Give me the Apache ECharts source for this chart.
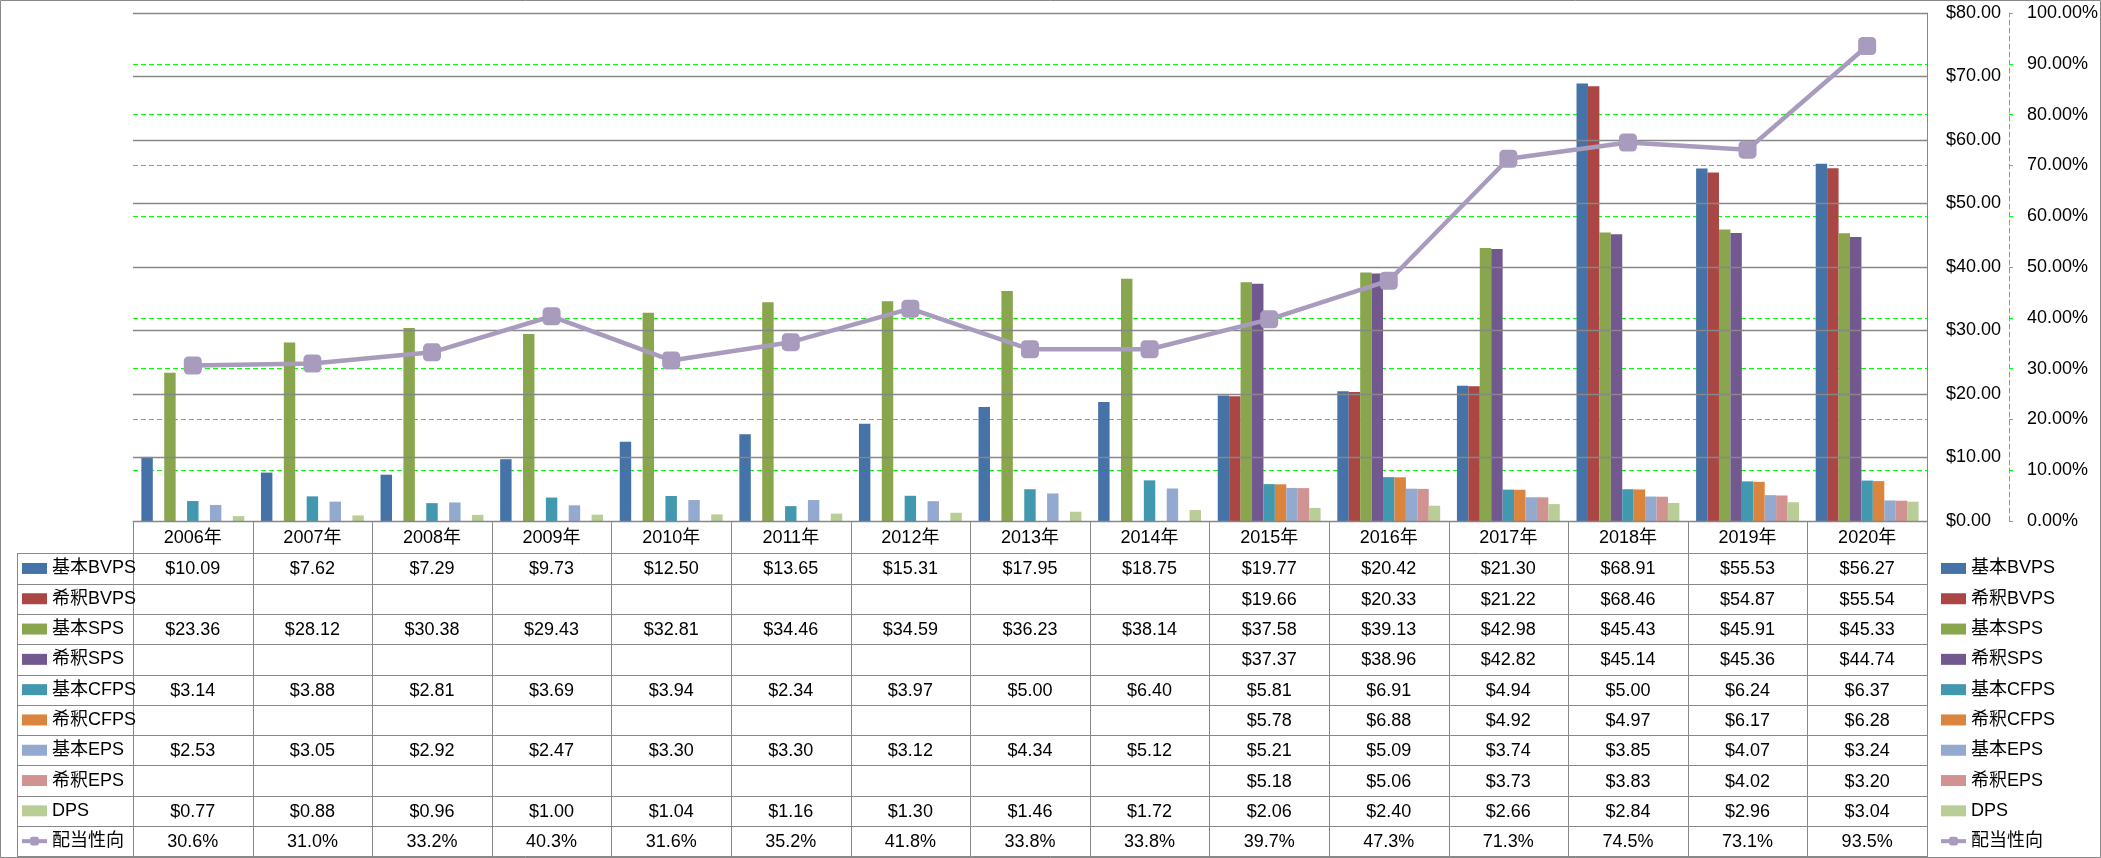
<!DOCTYPE html>
<html>
<head>
<meta charset="utf-8">
<script src="https://cdn.jsdelivr.net/npm/echarts@6/dist/echarts.min.js"></script>
<style>
  html, body { margin: 0; padding: 0; background: #fff; }
  #chart { width: 2101px; height: 858px; }
</style>
</head>
<body>
<div id="chart"></div>
<script>
const years = ['2006年', '2007年', '2008年', '2009年', '2010年', '2011年', '2012年', '2013年',
  '2014年', '2015年', '2016年', '2017年', '2018年', '2019年', '2020年'];

const basicBvps = [10.09, 7.62, 7.29, 9.73, 12.50, 13.65, 15.31, 17.95, 18.75, 19.77, 20.42, 21.30, 68.91, 55.53, 56.27];
const dilutedBvps = [null, null, null, null, null, null, null, null, null, 19.66, 20.33, 21.22, 68.46, 54.87, 55.54];
const basicSps = [23.36, 28.12, 30.38, 29.43, 32.81, 34.46, 34.59, 36.23, 38.14, 37.58, 39.13, 42.98, 45.43, 45.91, 45.33];
const dilutedSps = [null, null, null, null, null, null, null, null, null, 37.37, 38.96, 42.82, 45.14, 45.36, 44.74];
const basicCfps = [3.14, 3.88, 2.81, 3.69, 3.94, 2.34, 3.97, 5.00, 6.40, 5.81, 6.91, 4.94, 5.00, 6.24, 6.37];
const dilutedCfps = [null, null, null, null, null, null, null, null, null, 5.78, 6.88, 4.92, 4.97, 6.17, 6.28];
const basicEps = [2.53, 3.05, 2.92, 2.47, 3.30, 3.30, 3.12, 4.34, 5.12, 5.21, 5.09, 3.74, 3.85, 4.07, 3.24];
const dilutedEps = [null, null, null, null, null, null, null, null, null, 5.18, 5.06, 3.73, 3.83, 4.02, 3.20];
const dps = [0.77, 0.88, 0.96, 1.00, 1.04, 1.16, 1.30, 1.46, 1.72, 2.06, 2.40, 2.66, 2.84, 2.96, 3.04];
const payoutRatio = [30.6, 31.0, 33.2, 40.3, 31.6, 35.2, 41.8, 33.8, 33.8, 39.7, 47.3, 71.3, 74.5, 73.1, 93.5];

const barNames = ['基本BVPS', '希釈BVPS', '基本SPS', '希釈SPS', '基本CFPS', '希釈CFPS', '基本EPS', '希釈EPS', 'DPS'];
const barData = [basicBvps, dilutedBvps, basicSps, dilutedSps, basicCfps, dilutedCfps, basicEps, dilutedEps, dps];
const barColors = ['#4572A7', '#AA4643', '#89A54E', '#71588F', '#4198AF', '#DB843D', '#93A9CF', '#D19392', '#B9CD96'];
const lineName = '配当性向';
const lineColor = '#A99BBD';

const FONT = "'Liberation Sans', 'Noto Sans CJK JP', sans-serif";
const GRID_LINE = '#878787';
const GREEN = '#00FF00';

// table geometry
const plotLeft = 133;
const plotRight = 1928;
const axisY = 521;
const yearRowBottom = 553.3;
const rowH = 30.3;
const legendColLeft = 17;

const chartDom = document.getElementById('chart');
const myChart = echarts.init(chartDom);

const series = barNames.map((name, i) => ({
  name: name,
  type: 'bar',
  yAxisIndex: 0,
  barGap: '0%',
  barCategoryGap: '14%',
  itemStyle: { color: barColors[i] },
  data: barData[i]
}));
series.push({
  name: lineName,
  type: 'line',
  yAxisIndex: 1,
  symbol: 'roundRect',
  symbolSize: 18,
  lineStyle: { color: lineColor, width: 4.5 },
  itemStyle: { color: lineColor },
  z: 5,
  data: payoutRatio
});

const legendItems = barNames.map(n => ({ name: n, icon: 'rect' }));
legendItems.push({ name: lineName, lineStyle: { width: 4 } });

const legendBase = {
  orient: 'vertical',
  top: yearRowBottom + rowH / 2 - 10,
  padding: 0,
  height: 300,
  itemWidth: 25,
  itemHeight: 11,
  itemGap: rowH - 20,
  selectedMode: false,
  textStyle: { fontSize: 18, lineHeight: 20, color: '#000', fontFamily: FONT },
  data: legendItems
};

const option = {
  animation: false,
  backgroundColor: '#fff',
  textStyle: { fontFamily: FONT },
  grid: { left: plotLeft, right: 2101 - plotRight, top: 13, bottom: 858 - axisY },
  legend: [
    Object.assign({}, legendBase, { left: 20 }),
    Object.assign({}, legendBase, { left: 1939 })
  ],
  xAxis: {
    type: 'category',
    data: years,
    axisLine: { show: true, lineStyle: { color: GRID_LINE, width: 1 } },
    axisTick: { show: false },
    axisLabel: { show: false }
  },
  yAxis: [
    {
      type: 'value',
      position: 'right',
      min: 0,
      max: 80,
      interval: 10,
      z: 3,
      axisLine: { show: true, lineStyle: { color: GRID_LINE, width: 1 } },
      axisTick: { show: false },
      axisLabel: {
        margin: 19,
        fontSize: 18,
        color: '#000',
        fontFamily: FONT,
        formatter: (v) => '$' + v.toFixed(2)
      },
      splitLine: { show: true, lineStyle: { color: GRID_LINE, width: 1.4 } }
    },
    {
      type: 'value',
      position: 'right',
      offset: 82,
      min: 0,
      max: 100,
      interval: 10,
      z: 2,
      axisLine: { show: true, lineStyle: { color: GREEN, width: 1, type: [5, 3] } },
      axisTick: { show: true, length: 4, lineStyle: { color: GREEN } },
      axisLabel: {
        margin: 18,
        fontSize: 18,
        color: '#000',
        fontFamily: FONT,
        formatter: (v) => v.toFixed(2) + '%'
      },
      splitLine: { show: true, lineStyle: { color: GREEN, width: 1, type: [5, 3] } }
    }
  ],
  series: series
};

myChart.setOption(option);

// data table under the plot, cells centred on the category axis
function money(v) {
  return v == null ? '' : '$' + v.toFixed(2);
}
function pct(v) {
  return v == null ? '' : v.toFixed(1) + '%';
}

const rows = barData.map(arr => arr.map(money));
rows.push(payoutRatio.map(pct));

const graphics = [];
const lineStyle = { stroke: '#888', lineWidth: 1 };
const tableBottom = yearRowBottom + rowH * rows.length;

function hline(x1, x2, y) {
  const yy = Math.round(y) + 0.5;
  graphics.push({ type: 'line', silent: true, shape: { x1: x1, y1: yy, x2: x2, y2: yy }, style: lineStyle });
}
function vline(x, y1, y2) {
  const xx = Math.round(x) + 0.5;
  graphics.push({ type: 'line', silent: true, shape: { x1: xx, y1: y1, x2: xx, y2: y2 }, style: lineStyle });
}
function cellText(x, y, text) {
  graphics.push({
    type: 'text', silent: true, x: x, y: y,
    style: { text: text, fill: '#000', font: '18px ' + FONT, align: 'center', verticalAlign: 'middle' }
  });
}

// outer chart border
graphics.push({
  type: 'rect', silent: true,
  shape: { x: 0.5, y: 0.5, width: 2100, height: 857 },
  style: { fill: 'none', stroke: '#888', lineWidth: 1 }
});

const half = (plotRight - plotLeft) / years.length / 2;
years.forEach((y, i) => {
  const cx = myChart.convertToPixel({ xAxisIndex: 0 }, i);
  cellText(cx, (axisY + yearRowBottom) / 2 + 1, y);
  rows.forEach((r, k) => {
    cellText(cx, yearRowBottom + rowH * k + rowH / 2 + 1, r[i]);
  });
  vline(cx + half, axisY, tableBottom);
});
vline(plotLeft, axisY, tableBottom);
vline(legendColLeft, yearRowBottom, tableBottom);
hline(plotLeft, plotRight, yearRowBottom);
for (let k = 1; k <= rows.length; k++) {
  hline(legendColLeft, plotRight, yearRowBottom + rowH * k);
}
hline(legendColLeft, plotLeft, yearRowBottom);

myChart.setOption({ graphic: graphics });
</script>
</body>
</html>
